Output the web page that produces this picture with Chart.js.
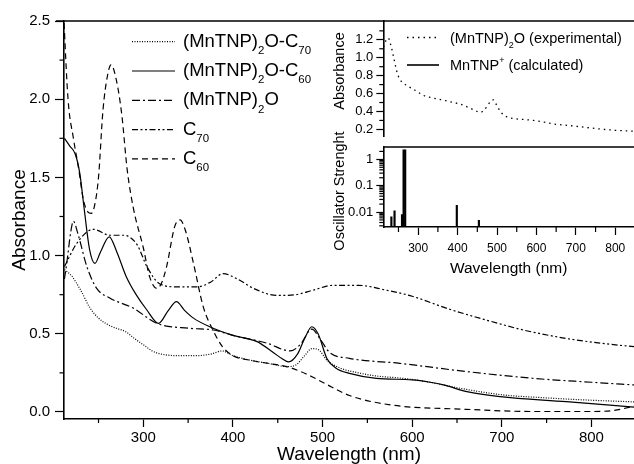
<!DOCTYPE html>
<html>
<head>
<meta charset="utf-8">
<script src="https://cdn.jsdelivr.net/npm/chart.js@4.4.1/dist/chart.umd.min.js"></script>
<style>
  html, body { margin: 0; padding: 0; background: #fff; overflow: hidden; }
  #wrap { position: relative; width: 634px; height: 464px; }
  canvas { position: absolute; }
</style>
</head>
<body>
<div id="wrap">
  <canvas id="main" width="634" height="464" style="left:0;top:0"></canvas>
  <canvas id="insetTop" width="334" height="147" style="left:300px;top:0"></canvas>
  <canvas id="insetBottom" width="334" height="280" style="left:300px;top:0"></canvas>
</div>
<script>
// ---- data ----
const seriesNames = ['(MnTNP)_{2}O-C_{70}', '(MnTNP)_{2}O-C_{60}', '(MnTNP)_{2}O', 'C_{70}', 'C_{60}'];

const wlMnC70 = [212, 220, 230, 240, 250, 260, 270, 280, 290, 300, 310, 320, 340, 360, 375, 388, 400, 420, 440, 460, 470, 480, 488, 495, 505, 520, 540, 560, 590, 620, 650, 700, 750, 800, 850];
const absMnC70 = [0.91, 0.87, 0.78, 0.67, 0.6, 0.56, 0.535, 0.515, 0.47, 0.43, 0.39, 0.37, 0.36, 0.36, 0.37, 0.39, 0.36, 0.33, 0.31, 0.29, 0.3, 0.36, 0.405, 0.4, 0.33, 0.28, 0.25, 0.23, 0.215, 0.19, 0.155, 0.11, 0.09, 0.075, 0.064];

const wlMnC60 = [212, 218, 224, 229, 234, 240, 246, 252, 262, 270, 281, 292, 304, 317, 328, 337, 346, 356, 374, 400, 427, 445, 455, 462, 472, 480, 488, 495, 505, 515, 530, 560, 600, 620, 635, 661, 698, 772, 850];
const absMnC60 = [1.75, 1.7, 1.65, 1.53, 1.3, 1.04, 0.95, 1.02, 1.12, 1.03, 0.865, 0.75, 0.652, 0.567, 0.65, 0.705, 0.65, 0.6, 0.545, 0.49, 0.45, 0.38, 0.34, 0.32, 0.37, 0.47, 0.545, 0.5, 0.34, 0.28, 0.247, 0.215, 0.205, 0.19, 0.173, 0.13, 0.098, 0.066, 0.03];

const wlMn = [212, 215, 219, 222, 227, 237, 248, 263, 289, 315, 352, 378, 400, 438, 464, 475, 488, 498, 508, 530, 586, 661, 735, 800, 850];
const absMn = [0.85, 0.97, 1.15, 1.22, 1.14, 0.93, 0.79, 0.727, 0.663, 0.567, 0.535, 0.524, 0.49, 0.44, 0.39, 0.43, 0.53, 0.46, 0.38, 0.343, 0.311, 0.258, 0.215, 0.19, 0.172];

const wlC70 = [212, 226, 244, 263, 278, 293, 304, 318, 337, 360, 375, 389, 405, 423, 449, 470, 490, 512, 540, 570, 600, 640, 700, 724, 772, 810, 850];
const absC70 = [0.93, 1.08, 1.168, 1.13, 1.13, 1.07, 0.93, 0.82, 0.8, 0.8, 0.83, 0.885, 0.85, 0.79, 0.745, 0.75, 0.78, 0.81, 0.81, 0.78, 0.74, 0.66, 0.56, 0.524, 0.47, 0.44, 0.416];

const wlC60 = [211, 216, 222, 228, 233, 238, 242, 246, 250, 255, 260, 264, 270, 276, 282, 289, 300, 307, 315, 320, 326, 335, 341, 347, 356, 367, 378, 388, 400, 420, 440, 460, 475, 490, 510, 530, 576, 660, 735, 800, 825, 850];
const absC60 = [2.55, 2.0, 1.75, 1.55, 1.36, 1.28, 1.27, 1.33, 1.5, 1.93, 2.15, 2.22, 2.12, 1.9, 1.55, 1.3, 1.05, 0.865, 0.79, 0.82, 0.93, 1.185, 1.228, 1.16, 0.95, 0.67, 0.52, 0.42, 0.36, 0.33, 0.31, 0.29, 0.26, 0.22, 0.16, 0.105, 0.045, 0.017, 0.003, 0.003, 0.01, 0.04];

// inset
const wlExp = [212, 218, 224, 230, 238, 245, 253, 262, 271, 283, 295, 313, 338, 370, 390, 408, 430, 445, 457, 466, 475, 483, 491, 498, 510, 525, 545, 570, 593, 620, 644, 678, 720, 760, 800, 848];
const absExp = [1.12, 1.19, 1.22, 1.15, 1.0, 0.86, 0.76, 0.72, 0.69, 0.66, 0.63, 0.58, 0.55, 0.52, 0.5, 0.48, 0.44, 0.41, 0.39, 0.41, 0.46, 0.51, 0.53, 0.48, 0.39, 0.34, 0.32, 0.31, 0.3, 0.28, 0.26, 0.245, 0.225, 0.205, 0.19, 0.18];
const wlCalc = [232, 240, 259, 263, 267, 398, 454];
const oscCalc = [0.0065, 0.011, 0.008, 2.3, 2.3, 0.018, 0.0048];

const xMajor = [300, 400, 500, 600, 700, 800];
const xMinor = [250, 350, 450, 550, 650, 750];
const yMajor = [0, 0.5, 1.0, 1.5, 2.0, 2.5];
const yMinor = [0.25, 0.75, 1.25, 1.75, 2.25];
const insetAbsMajor = [0.2, 0.4, 0.6, 0.8, 1.0, 1.2];
const insetAbsMinor = [0.3, 0.5, 0.7, 0.9, 1.1, 1.3];
const oscMajor = [0.01, 0.1, 1];
const oscMinor = [0.003, 0.004, 0.005, 0.006, 0.007, 0.008, 0.009, 0.02, 0.03, 0.04, 0.05, 0.06, 0.07, 0.08, 0.09, 0.2, 0.3, 0.4, 0.5, 0.6, 0.7, 0.8, 0.9, 2];

const FONT = '"Liberation Sans", Arial, sans-serif';
const pts = (xs, ys) => xs.map((x, i) => ({ x: x, y: ys[i] }));

// draws text with _{sub} and ^{sup} parts
function richText(ctx, str, x, y, size) {
    const parts = str.split(/(_\{[^}]*\}|\^\{[^}]*\})/).filter(p => p);
    ctx.textBaseline = 'middle';
    ctx.textAlign = 'left';
    parts.forEach(p => {
        let t = p, fs = size, dy = 0;
        if (p[0] === '_') { t = p.slice(2, -1); fs = size * 0.62; dy = size * 0.5; }
        if (p[0] === '^') { t = p.slice(2, -1); fs = size * 0.62; dy = -size * 0.38; }
        ctx.font = fs + 'px ' + FONT;
        ctx.fillText(t, x, y + dy);
        x += ctx.measureText(t).width;
    });
}

function minorTicks(list) {
    return {
        id: 'minorTicks',
        afterDraw(chart) {
            const ctx = chart.ctx;
            ctx.save();
            ctx.strokeStyle = '#000';
            ctx.lineWidth = 1.2;
            list.forEach(m => {
                const s = chart.scales[m.axis];
                m.values.forEach(v => {
                    const p = s.getPixelForValue(v);
                    ctx.beginPath();
                    if (s.isHorizontal()) { ctx.moveTo(p, s.top); ctx.lineTo(p, s.top + m.len); }
                    else { ctx.moveTo(s.right, p); ctx.lineTo(s.right - m.len, p); }
                    ctx.stroke();
                });
            });
            ctx.restore();
        }
    };
}

function topFrame(ext) {
    return {
        id: 'topFrame',
        afterDraw(chart) {
            const {ctx, chartArea: a} = chart;
            ctx.save();
            ctx.strokeStyle = '#000';
            ctx.lineWidth = 1.6;
            ctx.beginPath();
            ctx.moveTo(a.left - ext, a.top);
            ctx.lineTo(a.right, a.top);
            ctx.stroke();
            ctx.restore();
        }
    };
}

const mainLegend = {
    id: 'mainLegend',
    afterDraw(chart) {
        const ctx = chart.ctx;
        ctx.save();
        chart.data.datasets.forEach((ds, i) => {
            const y = 41.7 + i * 29.3;
            ctx.strokeStyle = '#000';
            ctx.lineWidth = ds.borderWidth;
            ctx.setLineDash(ds.borderDash || []);
            ctx.beginPath();
            ctx.moveTo(132, y);
            ctx.lineTo(175, y);
            ctx.stroke();
            ctx.setLineDash([]);
            ctx.fillStyle = '#000';
            richText(ctx, seriesNames[i], 183, y, 18.5);
        });
        ctx.restore();
    }
};

const lineDs = (xs, ys, dash) => ({
    data: pts(xs, ys),
    borderColor: '#000',
    borderWidth: 1.2,
    borderDash: dash,
    pointRadius: 0,
    cubicInterpolationMode: 'monotone'
});

new Chart(document.getElementById('main'), {
    type: 'line',
    data: {
        datasets: [
            lineDs(wlMnC70, absMnC70, [1, 1.5]),
            lineDs(wlMnC60, absMnC60, []),
            lineDs(wlMn, absMn, [8, 3, 2, 3]),
            lineDs(wlC70, absC70, [6, 2.5, 2, 2.5, 2, 2.5]),
            lineDs(wlC60, absC60, [6, 4])
        ]
    },
    options: {
        responsive: false,
        animation: false,
        devicePixelRatio: 1,
        layout: { padding: { top: 21, left: 0, right: 0, bottom: 0 } },
        plugins: { legend: { display: false }, tooltip: { enabled: false } },
        scales: {
            x: {
                type: 'linear', min: 211.5, max: 847.5,
                afterBuildTicks: s => { s.ticks = xMajor.map(v => ({ value: v })); },
                afterFit: s => { s.height = 45; },
                grid: { drawOnChartArea: false, tickLength: 8, tickColor: '#000', tickWidth: 1.2 },
                border: { color: '#000', width: 1.6 },
                ticks: { color: '#000', font: { size: 15, family: FONT }, padding: 2, maxRotation: 0 },
                title: { display: true, text: 'Wavelength (nm)', color: '#000', font: { size: 19, family: FONT, lineHeight: 1 }, padding: 0 }
            },
            y: {
                type: 'linear', min: -0.045, max: 2.5,
                afterBuildTicks: s => { s.ticks = yMajor.map(v => ({ value: v })); },
                afterFit: s => { s.width = 64; },
                grid: { drawOnChartArea: false, tickLength: 9, tickColor: '#000', tickWidth: 1.2 },
                border: { color: '#000', width: 1.6 },
                ticks: { color: '#000', font: { size: 15, family: FONT }, padding: 5, callback: v => v.toFixed(1) },
                title: { display: true, text: 'Absorbance', color: '#000', font: { size: 19, family: FONT, lineHeight: 1 }, padding: { top: 10, bottom: 0 } }
            }
        }
    },
    plugins: [topFrame(8), mainLegend, minorTicks([
        { axis: 'x', values: xMinor, len: 4 },
        { axis: 'y', values: yMinor, len: 4.5 }
    ])]
});

// ---- inset, upper panel ----
const insetTitle = (text, x, y) => ({
    id: 'insetTitle',
    afterDraw(chart) {
        const ctx = chart.ctx;
        ctx.save();
        ctx.translate(x, y);
        ctx.rotate(-Math.PI / 2);
        ctx.fillStyle = '#000';
        ctx.font = '14.5px ' + FONT;
        ctx.textAlign = 'center';
        ctx.textBaseline = 'middle';
        ctx.fillText(text, 0, 0);
        ctx.restore();
    }
});

const insetLegend = {
    id: 'insetLegend',
    afterDraw(chart) {
        const ctx = chart.ctx;
        ctx.save();
        ctx.strokeStyle = '#000';
        ctx.fillStyle = '#000';
        ctx.lineWidth = 1.3;
        ctx.setLineDash([1.5, 4]);
        ctx.beginPath(); ctx.moveTo(107, 37.5); ctx.lineTo(139, 37.5); ctx.stroke();
        ctx.setLineDash([]);
        ctx.lineWidth = 1.6;
        ctx.beginPath(); ctx.moveTo(107, 65); ctx.lineTo(139, 65); ctx.stroke();
        richText(ctx, '(MnTNP)_{2}O (experimental)', 150, 38.5, 14.5);
        richText(ctx, 'MnTNP^{+} (calculated)', 150, 66, 14.5);
        ctx.restore();
    }
};

new Chart(document.getElementById('insetTop'), {
    type: 'line',
    data: {
        datasets: [{
            data: pts(wlExp, absExp),
            borderColor: '#000',
            borderWidth: 1.3,
            borderDash: [1.5, 4],
            pointRadius: 0,
            cubicInterpolationMode: 'monotone'
        }]
    },
    options: {
        responsive: false,
        animation: false,
        devicePixelRatio: 1,
        layout: { padding: { top: 21, left: 0, right: 0, bottom: 0 } },
        plugins: { legend: { display: false }, tooltip: { enabled: false } },
        scales: {
            x: { type: 'linear', min: 211.5, max: 847.5, display: false },
            y: {
                type: 'linear', min: 0.124, max: 1.41,
                afterBuildTicks: s => { s.ticks = insetAbsMajor.map(v => ({ value: v })); },
                afterFit: s => { s.width = 83.3; },
                grid: { drawOnChartArea: false, tickLength: 7, tickColor: '#000', tickWidth: 1.2 },
                border: { color: '#000', width: 1.6 },
                ticks: { color: '#000', font: { size: 13, family: FONT }, padding: 3, callback: v => v.toFixed(1) }
            }
        }
    },
    plugins: [insetLegend, insetTitle('Absorbance', 40, 71), minorTicks([
        { axis: 'y', values: insetAbsMinor, len: 4 }
    ])]
});

// ---- inset, lower panel ----
new Chart(document.getElementById('insetBottom'), {
    type: 'bar',
    data: {
        datasets: [{
            data: pts(wlCalc, oscCalc),
            backgroundColor: '#000',
            borderWidth: 0,
            barThickness: 1.5
        }]
    },
    options: {
        responsive: false,
        animation: false,
        devicePixelRatio: 1,
        layout: { padding: { top: 147, left: 0, right: 0, bottom: 0 } },
        plugins: { legend: { display: false }, tooltip: { enabled: false } },
        scales: {
            x: {
                type: 'linear', min: 211.5, max: 847.5, offset: false,
                afterBuildTicks: s => { s.ticks = xMajor.map(v => ({ value: v })); },
                afterFit: s => { s.height = 53; },
                grid: { drawOnChartArea: false, offset: false, tickLength: 8, tickColor: '#000', tickWidth: 1.2 },
                border: { color: '#000', width: 1.6 },
                ticks: { color: '#000', font: { size: 12, family: FONT }, padding: 6, maxRotation: 0 },
                title: { display: true, text: 'Wavelength (nm)', color: '#000', font: { size: 15.5, family: FONT, lineHeight: 1 }, padding: { top: 0, bottom: 4 } }
            },
            y: {
                type: 'logarithmic', min: 0.0027, max: 2.94,
                afterBuildTicks: s => { s.ticks = oscMajor.map(v => ({ value: v })); },
                afterFit: s => { s.width = 83.3; },
                grid: { drawOnChartArea: false, tickLength: 7, tickColor: '#000', tickWidth: 1.2 },
                border: { color: '#000', width: 1.6 },
                ticks: { color: '#000', font: { size: 13, family: FONT }, padding: 3, callback: v => String(v) }
            }
        }
    },
    plugins: [topFrame(0), insetTitle('Oscillator Strenght', 40, 191), minorTicks([
        { axis: 'x', values: xMinor, len: 5 },
        { axis: 'y', values: oscMinor, len: 4 }
    ])]
});
</script>
</body>
</html>
